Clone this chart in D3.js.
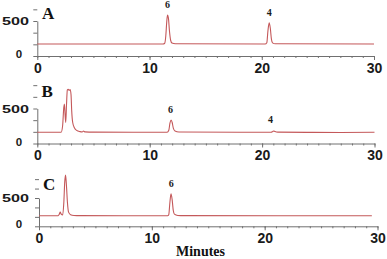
<!DOCTYPE html>
<html><head><meta charset="utf-8">
<script src="https://cdn.jsdelivr.net/npm/d3@7"></script>
<style>
html,body{margin:0;padding:0;background:#fff;}
svg{display:block;}
</style></head>
<body>
<svg id="chart" width="387" height="259"></svg>
<script>
// ---- data (time in minutes, detector response) ----
const traceA = [[0,171],[11.2,171],[11.35,182],[11.45,290],[11.53,480],[11.6,586],[11.68,545],[11.78,350],[11.88,225],[12.0,185],[12.3,174],[20.3,171],[20.45,190],[20.55,360],[20.66,476],[20.76,400],[20.86,240],[20.96,188],[21.2,174],[30,171]];
const traceB = [[0,160],[2.12,160],[2.25,250],[2.36,520],[2.41,564],[2.47,420],[2.53,300],[2.6,560],[2.67,764],[2.75,775],[2.83,758],[2.92,772],[3.0,700],[3.06,470],[3.15,300],[3.3,225],[3.5,188],[3.8,170],[4.0,165],[4.1,178],[4.25,166],[5,162],[11.55,160],[11.7,190],[11.8,290],[11.9,336],[12.0,300],[12.1,220],[12.25,180],[12.6,165],[20.8,160],[20.95,172],[21.03,179],[21.15,170],[21.4,162],[24,159],[27,157],[30,160]];
const traceC = [[0,187],[1.7,187],[1.8,215],[1.88,250],[1.97,215],[2.1,200],[2.2,420],[2.28,780],[2.35,906],[2.42,760],[2.52,420],[2.62,250],[2.8,205],[3.1,192],[3.6,188],[11.4,187],[11.5,205],[11.6,420],[11.7,575],[11.8,470],[11.9,280],[12.0,215],[12.3,192],[12.8,188],[29.5,187]];
const peakLabelsA = [{t:11.6,v:586,text:"6"},{t:20.66,v:476,text:"4"}];
const peakLabelsB = [{t:11.85,v:336,text:"6"},{t:20.75,v:190,text:"4"}];
const peakLabelsC = [{t:11.72,v:575,text:"6"}];
const xMajorTicks = [0,10,20,30];
const xMinorTicks = d3.range(0,31,1);
const yTicksA = [0,166.7,333.3,500,666.7];
const yTicksBC = [0,166.7,333.3,500,666.7,833.3];
const yLabels = [0,500];
const panelLetters = ["A","B","C"];
const xTitle = "Minutes";

// ---- layout ----
const panels = [
  {letter:"A", trace:traceA, labels:peakLabelsA, yTicks:yTicksA, xr:[37.3,374], y0:56, y500:21, lx:42, ly:18.5},
  {letter:"B", trace:traceB, labels:peakLabelsB, yTicks:yTicksBC, xr:[37.3,374.5], y0:143.5, y500:108.5, lx:41.5, ly:96.5},
  {letter:"C", trace:traceC, labels:peakLabelsC, yTicks:yTicksBC, xr:[39,377.5], y0:226.3, y500:198, lx:43, ly:190}
];

const svg = d3.select("#chart");
const axisColor = "#707070";
const lineColor = "#c4585a";

panels.forEach(p => {
  const x = d3.scaleLinear().domain([0,30]).range(p.xr);
  const y = d3.scaleLinear().domain([0,500]).range([p.y0,p.y500]);
  const g = svg.append("g");

  // x minor ticks
  const gxm = g.append("g").attr("transform",`translate(0,${p.y0})`)
    .call(d3.axisBottom(x).tickValues(xMinorTicks).tickSize(2).tickFormat(""));
  gxm.select(".domain").remove();
  gxm.selectAll("line").attr("stroke",axisColor);
  // x major axis
  const gx = g.append("g").attr("transform",`translate(0,${p.y0})`)
    .call(d3.axisBottom(x).tickValues(xMajorTicks).tickSize(4).tickSizeOuter(0).tickPadding(3));
  gx.select(".domain").attr("stroke",axisColor);
  gx.selectAll("line").attr("stroke",axisColor);
  gx.selectAll("text").attr("font-family","Liberation Sans, Arial, sans-serif")
    .attr("font-weight","bold").attr("font-size",14).attr("fill","#1a1a1a");

  // y axis
  const gy = g.append("g").attr("transform",`translate(${p.xr[0]},0)`)
    .call(d3.axisLeft(y).tickValues(p.yTicks).tickSize(4).tickSizeOuter(0).tickFormat(""));
  gy.select(".domain").attr("stroke",axisColor);
  gy.selectAll("line").attr("stroke",axisColor);

  // y labels
  yLabels.forEach(v => {
    const t = g.append("text")
      .attr("y", y(v)).attr("dy","0.36em")
      .attr("font-family","Liberation Sans, Arial, sans-serif")
      .attr("font-weight","bold").attr("font-size",11.5).attr("fill","#1a1a1a")
      .text(v);
    if (v === 0) { t.attr("x",19).attr("text-anchor","middle").attr("y", y(v)-2); }
    else { t.attr("x",2).attr("textLength",27).attr("lengthAdjust","spacingAndGlyphs"); }
  });

  // trace
  const line = d3.line().x(d=>x(d[0])).y(d=>y(d[1])).curve(d3.curveMonotoneX);
  g.append("path").datum(p.trace).attr("d",line)
    .attr("fill","none").attr("stroke",lineColor).attr("stroke-width",1.1);

  // peak labels
  g.selectAll(".pk").data(p.labels).enter().append("text")
    .attr("x",d=>x(d.t)).attr("y",d=>y(d.v)-7)
    .attr("text-anchor","middle")
    .attr("font-family","Liberation Serif, Times New Roman, serif")
    .attr("font-weight","bold").attr("font-size",10).attr("fill","#1a1a1a")
    .text(d=>d.text);

  // panel letter
  g.append("text").attr("x",p.lx).attr("y",p.ly)
    .attr("font-family","Liberation Serif, Times New Roman, serif")
    .attr("font-weight","bold").attr("font-size",17).attr("fill","#111")
    .text(p.letter);
});

svg.append("text").attr("x",200.5).attr("y",255.5)
  .attr("text-anchor","middle")
  .attr("font-family","Liberation Serif, Times New Roman, serif")
  .attr("font-weight","bold").attr("font-size",14).attr("fill","#111")
  .text(xTitle);
</script>
</body></html>
